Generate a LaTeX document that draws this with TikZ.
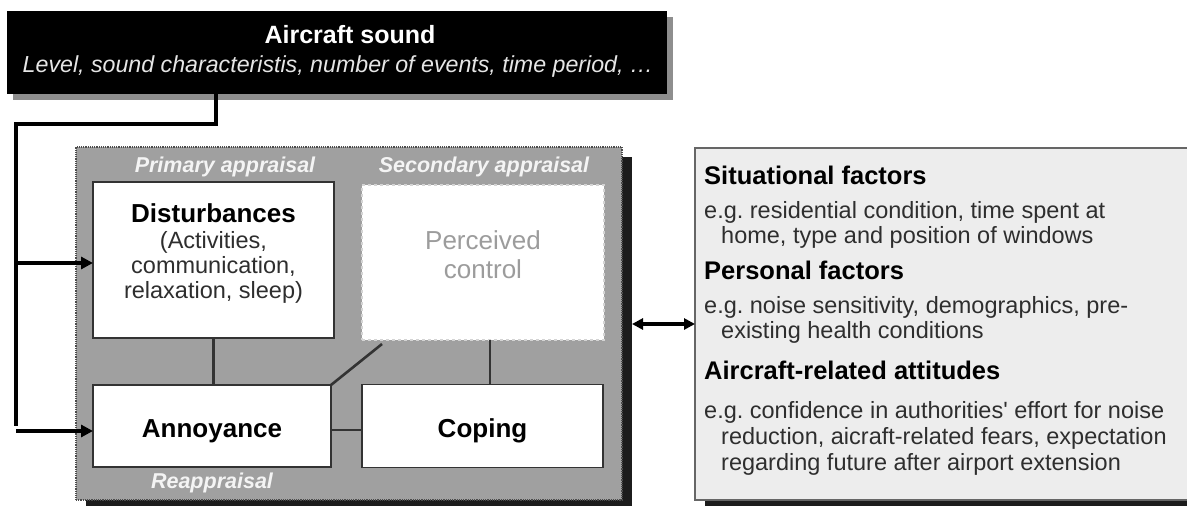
\documentclass[tikz,border=0pt]{standalone}
\usepackage{fontspec}
\setmainfont{Liberation Sans}
\usetikzlibrary{arrows.meta}
\frenchspacing

\definecolor{panelgray}{HTML}{A0A0A0}
\definecolor{shade}{HTML}{1C1C1C}
\definecolor{softshade}{HTML}{8E8E8E}
\definecolor{linkgray}{HTML}{333333}
\definecolor{factorfill}{HTML}{EDEDED}
\definecolor{factorframe}{HTML}{666666}
\definecolor{pcgray}{HTML}{9C9C9C}
\definecolor{pcframe}{HTML}{D4D4D4}
\definecolor{tagwhite}{HTML}{F4F4F4}
\definecolor{bodytext}{HTML}{2E2E2E}

\begin{document}
\begin{tikzpicture}[x=1pt,y=-1pt,
  rect/.style={rectangle, inner sep=0pt, outer sep=0pt},
  whitebox/.style={rect, draw=linkgray, line width=1.6pt, fill=white},
  link/.style={draw=linkgray, line width=2.6pt},
  rail/.style={draw=black, line width=3.6pt, line join=miter},
  feed/.style={rail, -{Triangle[length=12pt,width=12pt]}},
  twoway/.style={rail, {Triangle[length=11pt,width=11pt]}-{Triangle[length=11pt,width=11pt]}},
  tag/.style={anchor=base, inner sep=0pt, text=tagwhite,
    font=\fontsize{21.5}{24}\selectfont\bfseries\itshape},
  boxhead/.style={anchor=base, inner sep=0pt, font=\fontsize{26}{30}\selectfont\bfseries},
  boxline/.style={anchor=base, inner sep=0pt, text=bodytext, font=\fontsize{23.5}{28}\selectfont},
  facthead/.style={anchor=base west, inner sep=0pt, font=\fontsize{25.5}{28}\selectfont\bfseries},
  factline/.style={anchor=base west, inner sep=0pt, text=bodytext, font=\fontsize{23.5}{28}\selectfont}
]
\useasboundingbox (0,0) rectangle (1187,506);
\clip (0,0) rectangle (1187,506);

% --- source box with its drop shadow
\node[rect, fill=softshade, minimum width=660pt, minimum height=83pt] (soundshade) at (343,58.5) {};
\node[rect, fill=black, minimum width=660pt, minimum height=83pt] (sound) at (337,52.5) {};
\node[anchor=base, inner sep=0pt, text=white, font=\fontsize{25}{28}\selectfont\bfseries]
  (soundtitle) at (350,43) {Aircraft sound};
\node[anchor=base, inner sep=0pt, text=white!90!black, font=\fontsize{23.2}{28}\selectfont\itshape]
  (soundsub) at (338,72) {Level, sound characteristis, number of events, time period, …};

% --- appraisal panel
\node[rect, fill=shade, minimum width=546pt, minimum height=350pt] (panelshade) at (359,332) {};
\node[rect, fill=panelgray, draw=black!70, densely dotted, line width=1.2pt,
  minimum width=546pt, minimum height=353pt] (panel) at (349,323.5) {};

\node[tag] (primary) at (225,172.5) {Primary appraisal};
\node[tag] (secondary) at (484,172.5) {Secondary appraisal};
\node[tag] (reappraisal) at (212,488) {Reappraisal};

\node[whitebox, minimum width=241pt, minimum height=156pt] (dist) at (213.5,260) {};
\node[boxhead] (disthead) at (213.5,222) {Disturbances};
\node[boxline] (dist1) at (213.5,248) {(Activities,};
\node[boxline] (dist2) at (213.5,273) {communication,};
\node[boxline] (dist3) at (213.5,298) {relaxation, sleep)};

\node[rect, fill=white, draw=pcframe, dashed, line width=1.6pt,
  minimum width=242pt, minimum height=155pt] (pc) at (483,262.5) {};
\node[anchor=base, inner sep=0pt, text=pcgray, font=\fontsize{26}{30}\selectfont]
  (pc1) at (483,249) {Perceived};
\node[anchor=base, inner sep=0pt, text=pcgray, font=\fontsize{26}{30}\selectfont]
  (pc2) at (483,278) {control};

\node[whitebox, minimum width=238pt, minimum height=82pt] (ann) at (212,426) {};
\node[boxhead] (anntext) at (212,437) {Annoyance};
\node[whitebox, minimum width=241pt, minimum height=83pt] (cop) at (482.5,426) {};
\node[boxhead] (coptext) at (482.5,437) {Coping};

% links inside the panel
\draw[link] (dist.south) -- (dist.south |- ann.north);
\draw[link] ([xshift=7pt]pc.south) -- ([xshift=7pt]pc.south |- cop.north);
\draw[link] ([xshift=20pt,yshift=-4pt]pc.south west) -- (ann.north east);
\draw[link] ([yshift=-4pt]ann.east) -- ([yshift=-4pt]ann.east -| cop.west);

% --- feed from the source into the panel
\coordinate (drop) at (216,124);
\coordinate (corner) at (16,124);
\draw[rail] (sound.south -| drop) -- (drop) -- (corner) -- (corner |- ann.west);
\draw[feed] ([yshift=-3pt]corner |- dist.west) -- ([yshift=-3pt]dist.west);
\draw[feed] ([yshift=-5pt]corner |- ann.west) -- ([yshift=-5pt]ann.west);

% --- moderating factors
\node[rect, fill=shade, minimum width=505pt, minimum height=352pt] (factshade) at (957.5,331) {};
\node[rect, fill=factorfill, draw=factorframe, line width=1.4pt,
  minimum width=505pt, minimum height=352pt] (factors) at (947.5,324) {};

\node[facthead] (sit) at (704,184) {Situational factors};
\node[factline] (sit1) at (704,218) {e.g. residential condition, time spent at};
\node[factline] (sit2) at (721,243) {home, type and position of windows};
\node[facthead] (pers) at (704,279) {Personal factors};
\node[factline] (pers1) at (704,313) {e.g. noise sensitivity, demographics, pre-};
\node[factline] (pers2) at (721,338) {existing health conditions};
\node[facthead] (att) at (704,379) {Aircraft-related attitudes};
\node[factline] (att1) at (704,418) {e.g. confidence in authorities\textquotesingle{} effort for noise};
\node[factline] (att2) at (721,444) {reduction, aicraft-related fears, expectation};
\node[factline] (att3) at (721,470) {regarding future after airport extension};

\draw[twoway] (panelshade.east |- factors.west) -- (factors.west);
\end{tikzpicture}
\end{document}
